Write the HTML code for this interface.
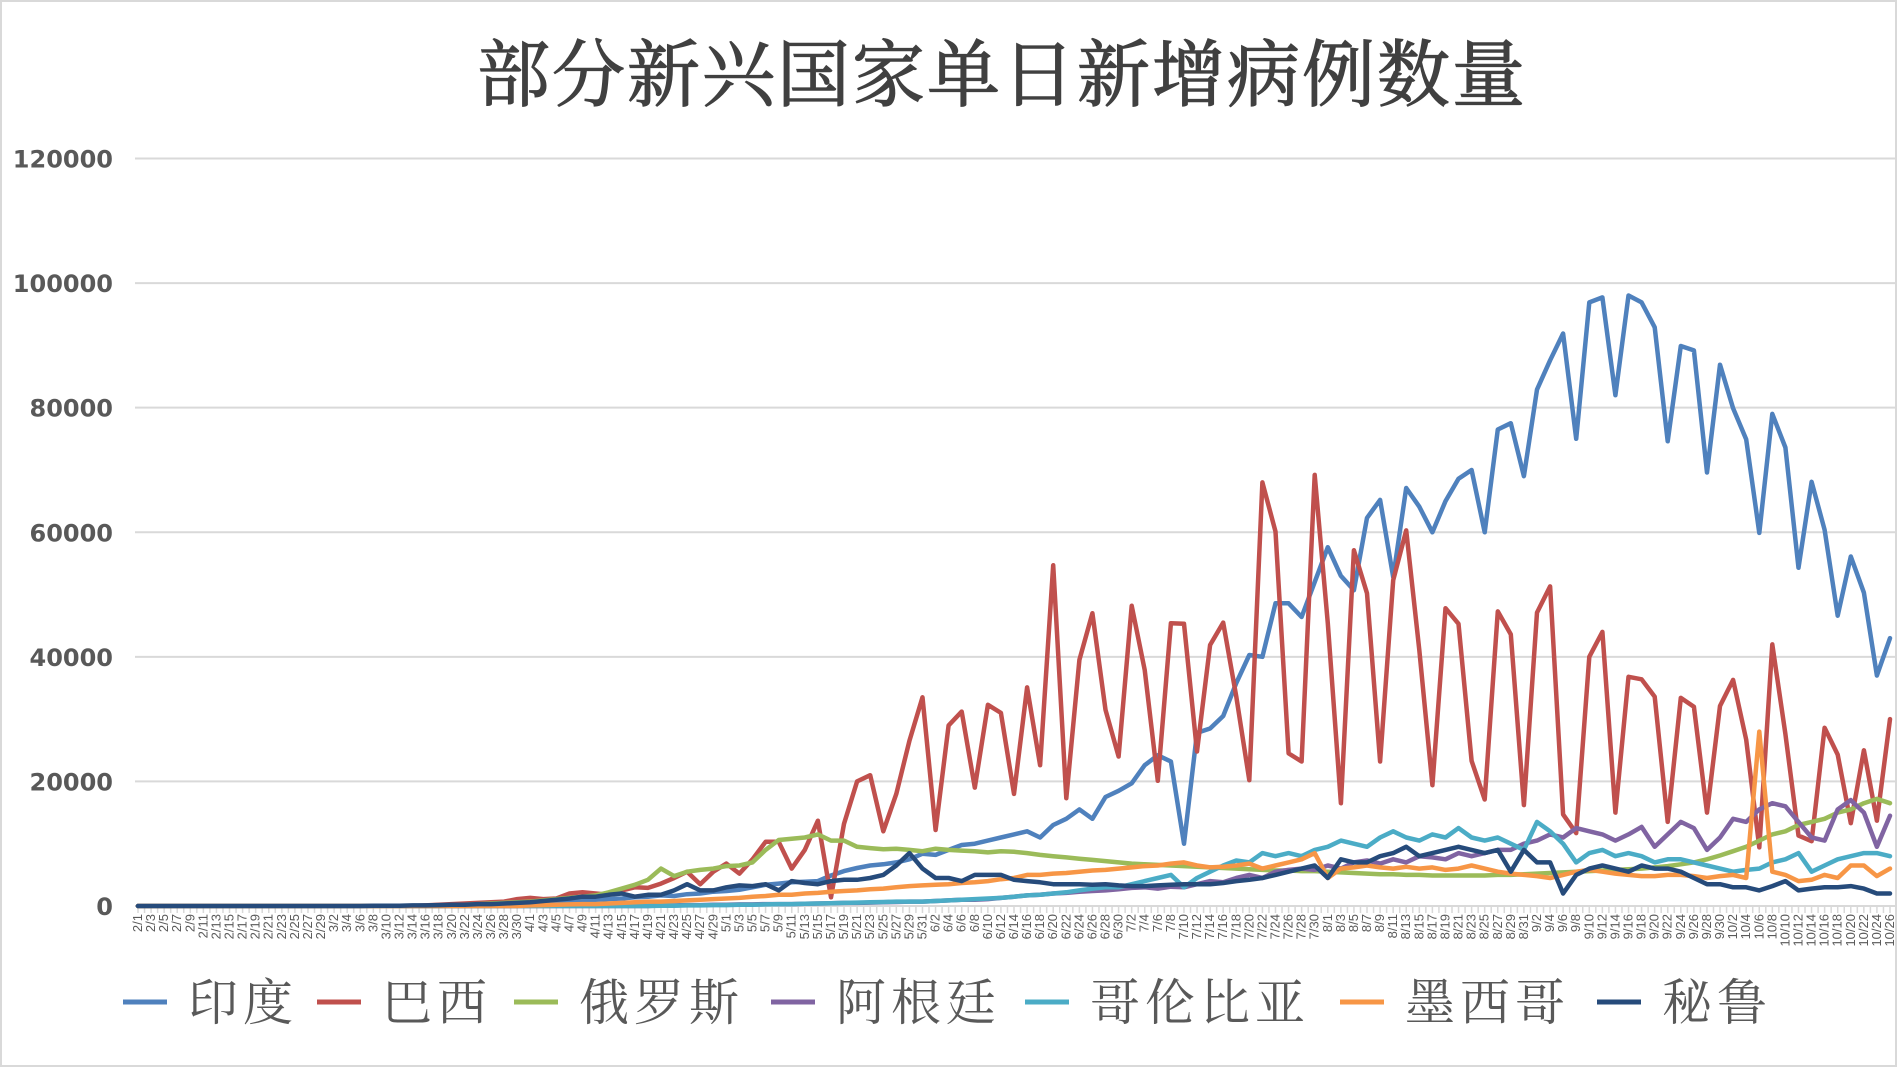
<!DOCTYPE html>
<html><head><meta charset="utf-8">
<style>
html,body{margin:0;padding:0;background:#fff;}
#wrap{position:relative;width:1897px;height:1068px;overflow:hidden;background:#fff;}
svg{position:absolute;left:0;top:0;}
</style></head>
<body>
<div id="wrap">
<svg id="chart" width="1897" height="1068">
  <rect x="1" y="1" width="1895" height="1065" fill="#fff" stroke="#d9d9d9" stroke-width="2"/>
  <text x="1002" y="100" text-anchor="middle" font-family="'Liberation Serif','Noto Serif CJK SC',serif" font-size="73" letter-spacing="2" fill="#404040" stroke="#404040" stroke-width="1.2">部分新兴国家单日新增病例数量</text>
  <g id="grid"></g>
  <g id="yaxis"></g>
  <g id="xaxis"></g>
  <g id="series"></g>
  <g id="legend"></g>
</svg>
</div>
<script>
const yTicks = [0,20000,40000,60000,80000,100000,120000];
const seriesNames = ["印度","巴西","俄罗斯","阿根廷","哥伦比亚","墨西哥","秘鲁"];
const seriesColors = ["#4f81bd","#c0504d","#9bbb59","#8064a2","#4bacc6","#f79646","#264b7b"];
const z = n => Array(n).fill(0);
const india = z(30).concat([400,500,700,900,1000,1000,1100,1200,1400,1500,1700,1600,1900,2000,2300,
2400,2600,3000,3400,3600,3800,3900,4000,4900,5600,6100,6500,6700,7000,7500,8400,
8200,9000,9800,10000,10500,11000,11500,12000,11000,13000,14000,15500,14000,17500,18500,
19700,22600,24200,23200,10000,27800,28500,30500,35800,40300,40000,48600,48600,46400,52000,57600,53000,50700,62300,65200,52800,67100,64100,60000,
65000,68600,70000,60000,76500,77500,69000,82900,87600,91900,
75000,96900,97700,82000,98000,96900,92900,74600,89900,89200,
69600,86900,79900,74900,59900,79000,73600,54300,68100,60400,
46600,56100,50300,37000,43000]);
const brazil = z(22).concat([100,200,300,400,500,600,700,1100,1300,1100,
1200,2000,2200,2000,1800,2500,3000,2900,3600,4500,
5500,3500,5500,6800,5200,7500,10300,10300,6000,9000,
13700,1400,13200,20000,21000,12000,18000,26500,33500,12200,
29000,31200,19000,32300,31000,18000,35100,22600,54700,17300,
39500,47000,31500,24000,48200,37900,20100,45400,45300,24800,
41900,45500,33600,20200,68000,60100,24500,23200,69200,45400,
16500,57100,50200,23200,52300,60300,41100,19400,47800,45300,
23300,17100,47300,43600,16200,47100,51300,14700,11700,40000,
44000,15000,36800,36400,33600,13500,33400,32000,15000,32100,
36300,26700,9400,42000,27600,11300,10400,28600,24300,13300,
25000,13700,30000]);
const russia = z(24).concat([100,200,300,400,500,600,
700,900,1100,1300,1500,1700,2200,2800,3400,4200,
6000,4800,5500,5800,6000,6400,6500,7000,9000,10600,
10800,11000,11500,10500,10500,9500,9300,9100,9200,9000,
8800,9200,9000,8900,8800,8600,8800,8700,8500,8200,
8000,7800,7600,7400,7200,7000,6800,6700,6600,6500,
6400,6300,6200,6100,6000,5900,5800,5700,5700,5600,
5600,5500,5400,5300,5200,5100,5100,5000,5000,4900,
4900,4900,4900,4900,5000,5000,5100,5200,5300,5400,
5500,5600,5700,5800,5900,6000,6200,6400,6700,7000,
7500,8100,8800,9500,10500,11500,12000,13000,13500,14000,
15000,15500,16500,17200,16500]);
const argentina = z(40).concat([100,100,150,150,200,200,250,250,300,300,
300,350,400,450,500,500,550,600,650,700,
700,800,900,1000,1000,1100,1300,1500,1700,1800,
2000,2100,2300,2400,2500,2700,2900,3000,2800,3100,
3000,3500,4000,3800,4500,5000,4500,5500,5800,6000,
5800,6500,6000,7000,7300,6800,7500,7000,8000,7800,
7500,8500,8000,8500,9000,9000,10000,10500,11500,11000,
12500,12000,11500,10500,11500,12700,9500,11500,13500,12500,
9000,11000,14000,13500,15500,16500,16000,13500,11000,10500,
15500,17000,15000,9500,14500]);
const colombia = z(40).concat([50,50,100,100,150,150,200,200,250,300,
300,350,400,450,500,550,600,650,700,700,
700,800,900,1000,1100,1200,1300,1500,1700,1800,
2000,2200,2500,2800,3000,3000,3500,4000,4500,5000,
3000,4500,5500,6500,7300,7000,8500,8000,8500,8000,
9000,9500,10500,10000,9500,11000,12000,11000,10500,11500,
11000,12500,11000,10500,11000,10000,9000,13500,12000,10000,
7000,8500,9000,8000,8500,8000,7000,7500,7500,7000,
6500,6000,5500,5800,6000,7000,7500,8500,5500,6500,
7500,8000,8500,8500,8000]);
const mexico = z(30).concat([100,150,200,250,300,300,400,500,600,700,
700,800,900,1000,1100,1200,1300,1500,1600,1800,
1800,2000,2100,2300,2400,2500,2700,2800,3000,3200,
3300,3400,3500,3700,3800,4000,4300,4500,5000,5000,
5200,5300,5500,5700,5800,6000,6200,6400,6500,6800,
7000,6500,6200,6300,6500,6800,6000,6500,7000,7500,
8500,4500,6000,6200,6500,6200,6000,6300,6000,6200,
5800,6000,6500,6000,5500,5200,5000,4800,4500,5000,
5500,5800,5500,5200,5000,4800,4800,5000,5000,4800,
4500,4800,5000,4500,28000,5500,5000,4000,4200,5000,
4500,6500,6500,4800,6000]);
const peru = z(18).concat([50,50,50,100,100,150,200,200,300,300,400,500,
600,800,1000,1200,1500,1500,1800,2000,1500,1800,
1800,2500,3500,2500,2500,3000,3300,3200,3500,2500,
4000,3700,3500,4000,4200,4200,4500,5000,6500,8500,
6000,4500,4500,4000,5000,5000,5000,4200,4000,3800,
3500,3500,3500,3400,3500,3300,3200,3200,3300,3400,
3500,3500,3500,3700,4000,4200,4500,5000,5500,6000,
6500,4500,7500,7000,7000,8000,8500,9500,8000,8500,
9000,9500,9000,8500,9000,5500,9000,7000,7000,2000,
5000,6000,6500,6000,5500,6500,6000,6000,5500,4500,
3500,3500,3000,3000,2500,3200,4000,2500,2800,3000,
3000,3200,2800,2000,2000]);
const seriesValues = [india,brazil,russia,argentina,colombia,mexico,peru];
const monthDays = [["2",29],["3",31],["4",30],["5",31],["6",30],["7",31],["8",31],["9",30],["10",26]];

const NS = "http://www.w3.org/2000/svg";
const X0 = 138, X1 = 1890, Y0 = 906, YTOP = 158.5, YMAX = 120000;
const yScale = v => Y0 - (v / YMAX) * (Y0 - YTOP);
function mk(tag, attrs, parent){ const e=document.createElementNS(NS,tag); for(const k in attrs) e.setAttribute(k,attrs[k]); parent.appendChild(e); return e; }

const categories = [];
let dayIdx = 0;
monthDays.forEach(([m,n])=>{ for(let d=1; d<=n; d++){ if(dayIdx%2===0) categories.push(m+"/"+d); dayIdx++; } });
const nPts = india.length;
const xScale = i => X0 + i * (X1 - X0) / (nPts - 1);

const grid = document.getElementById('grid');
const yaxis = document.getElementById('yaxis');
yTicks.forEach(t=>{
  const y = yScale(t);
  const ln = mk('line',{x1:135,x2:1897,y1:y,y2:y,stroke:'#d9d9d9','stroke-width':2},grid);
  
  
  const tx = mk('text',{x:113,y:y+9,'text-anchor':'end','font-family':"'DejaVu Sans',sans-serif",'font-weight':'bold','font-size':24,fill:'#595959'},yaxis);
  tx.textContent = t;
  
  
});

const xaxis = document.getElementById('xaxis');
for(let i=0;i<dayIdx;i++){
  const x = X0 + i*(X1-X0)/(dayIdx-1);
  const tk = mk('line',{x1:x,x2:x,y1:Y0,y2:Y0+7,stroke:'#d9d9d9','stroke-width':1.5},xaxis);
  
  
}
categories.forEach((c,i)=>{
  const x = xScale(i);
  const tx = mk('text',{x:0,y:0,'text-anchor':'end','font-family':"'Liberation Sans',sans-serif",'font-size':13,fill:'#595959',transform:`translate(${x+4},${Y0+8}) rotate(-90)`},xaxis);
  tx.textContent = c;
  
  
});

const sg = document.getElementById('series');
seriesValues.forEach((vals,s)=>{
  const pts = vals.map((v,i)=>xScale(i).toFixed(1)+','+yScale(v).toFixed(1)).join(' ');
  const pl = mk('polyline',{points:pts,fill:'none',stroke:seriesColors[s],'stroke-width':4.5,'stroke-linejoin':'round','stroke-linecap':'round'},sg);
  
  
});

const legend = document.getElementById('legend');
const legX = [123,317,514,771,1025,1340,1597];
seriesNames.forEach((nm,s)=>{
  const g = mk('g',{},legend);
  
  
  mk('line',{x1:legX[s],x2:legX[s]+44,y1:1002,y2:1002,stroke:seriesColors[s],'stroke-width':5},g);
  const tx = mk('text',{x:legX[s]+65,y:1020,'font-family':"'Liberation Serif','Noto Serif CJK SC',serif",'font-size':50,'letter-spacing':5,fill:'#595959'},g);
  tx.textContent = nm;
});
</script>
</body></html>
